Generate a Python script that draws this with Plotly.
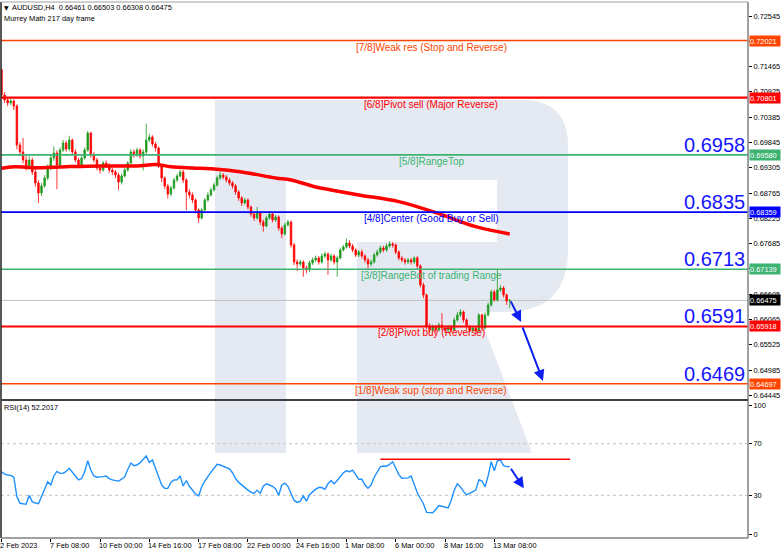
import plotly.graph_objects as go

# ---------------- DATA ----------------
first_open = 0.71400
closes = [0.70859, 0.70753, 0.70689, 0.70731, 0.70624, 0.69792, 0.69643, 0.69472, 0.69344, 0.69472,
          0.69216, 0.68981, 0.68768, 0.68917, 0.69088, 0.69301, 0.69515, 0.69621, 0.69365, 0.69685,
          0.69835, 0.69706, 0.69899, 0.69643, 0.69472, 0.69365, 0.69515, 0.69685, 0.70048, 0.69579,
          0.69472, 0.69301, 0.69258, 0.69408, 0.69365, 0.69258, 0.69216, 0.69151, 0.69002, 0.69130,
          0.69258, 0.69408, 0.69643, 0.69579, 0.69685, 0.69557, 0.69643, 0.69899, 0.69962, 0.69813,
          0.69728, 0.69344, 0.69088, 0.68917, 0.68746, 0.68874, 0.69045, 0.69130, 0.69216, 0.69045,
          0.68789, 0.68725, 0.68618, 0.68405, 0.68234, 0.68405, 0.68618, 0.68725, 0.68832, 0.68938,
          0.69088, 0.69151, 0.69109, 0.69045, 0.68981, 0.68917, 0.68789, 0.68661, 0.68554, 0.68618,
          0.68469, 0.68319, 0.68234, 0.68341, 0.68149, 0.68063, 0.68234, 0.68319, 0.68191, 0.68255,
          0.68020, 0.67892, 0.68084, 0.68149, 0.67658, 0.67295, 0.67252, 0.67295, 0.67167, 0.67124,
          0.67274, 0.67338, 0.67380, 0.67295, 0.67423, 0.67466, 0.67338, 0.67423, 0.67295, 0.67380,
          0.67551, 0.67615, 0.67700, 0.67636, 0.67551, 0.67444, 0.67508, 0.67423, 0.67338, 0.67252,
          0.67295, 0.67444, 0.67508, 0.67594, 0.67551, 0.67636, 0.67679, 0.67658, 0.67508, 0.67380,
          0.67338, 0.67295, 0.67338, 0.67295, 0.67380, 0.67210, 0.66804, 0.66591, 0.65929, 0.65844,
          0.65908, 0.65844, 0.65950, 0.65886, 0.65844, 0.65908, 0.65844, 0.66057, 0.66164, 0.66228,
          0.66057, 0.65908, 0.65844, 0.65886, 0.65822, 0.66164, 0.65886, 0.66164, 0.66377, 0.66655,
          0.66485, 0.66697, 0.66740, 0.66591, 0.66461, 0.66475]
highs = [0.71436, 0.70920, 0.70800, 0.70790, 0.70760, 0.70660, 0.69850, 0.69940, 0.69560, 0.69560,
         0.69520, 0.69280, 0.69040, 0.68980, 0.69150, 0.69380, 0.69600, 0.69760, 0.69680, 0.69740,
         0.69900, 0.69880, 0.69990, 0.69930, 0.69700, 0.69520, 0.69560, 0.69740, 0.70090, 0.70070,
         0.69640, 0.69520, 0.69360, 0.69450, 0.69460, 0.69400, 0.69300, 0.69260, 0.69200, 0.69180,
         0.69300, 0.69450, 0.69700, 0.69700, 0.69730, 0.69720, 0.69700, 0.70250, 0.70030, 0.70000,
         0.69860, 0.69760, 0.69380, 0.69120, 0.68960, 0.68920, 0.69090, 0.69180, 0.69260, 0.69260,
         0.69080, 0.68850, 0.68780, 0.68650, 0.68440, 0.68450, 0.68660, 0.68780, 0.68880, 0.68990,
         0.69140, 0.69220, 0.69190, 0.69150, 0.69090, 0.69020, 0.68960, 0.68830, 0.68700, 0.68660,
         0.68650, 0.68500, 0.68360, 0.68470, 0.68380, 0.68200, 0.68280, 0.68370, 0.68360, 0.68300,
         0.68290, 0.68060, 0.68130, 0.68200, 0.68180, 0.67700, 0.67350, 0.67340, 0.67330, 0.67220,
         0.67320, 0.67390, 0.67430, 0.67420, 0.67480, 0.67520, 0.67500, 0.67470, 0.67460, 0.67430,
         0.67600, 0.67660, 0.67800, 0.67760, 0.67680, 0.67590, 0.67550, 0.67560, 0.67460, 0.67380,
         0.67350, 0.67490, 0.67560, 0.67640, 0.67640, 0.67690, 0.67740, 0.67720, 0.67690, 0.67540,
         0.67420, 0.67380, 0.67380, 0.67380, 0.67420, 0.67420, 0.67240, 0.66850, 0.66620, 0.65990,
         0.65960, 0.65950, 0.66000, 0.66200, 0.65930, 0.65950, 0.65940, 0.66110, 0.66230, 0.66290,
         0.66260, 0.66090, 0.65950, 0.65930, 0.65920, 0.66210, 0.66200, 0.66220, 0.66430, 0.66700,
         0.66700, 0.67120, 0.66800, 0.66780, 0.66620, 0.66503]
lows = [0.70800, 0.70690, 0.70620, 0.70640, 0.70540, 0.69700, 0.69560, 0.69400, 0.69250, 0.69300,
        0.69150, 0.68900, 0.68550, 0.68700, 0.68880, 0.69040, 0.69250, 0.69450, 0.68850, 0.69320,
        0.69640, 0.69650, 0.69660, 0.69600, 0.69420, 0.69300, 0.69320, 0.69480, 0.69650, 0.69520,
        0.69420, 0.69250, 0.69180, 0.69220, 0.69300, 0.69200, 0.69150, 0.69080, 0.68830, 0.68950,
        0.69100, 0.69220, 0.69380, 0.69520, 0.69540, 0.69500, 0.69250, 0.69600, 0.69850, 0.69760,
        0.69650, 0.69300, 0.69000, 0.68850, 0.68650, 0.68700, 0.68840, 0.69000, 0.69100, 0.68980,
        0.68400, 0.68650, 0.68550, 0.68330, 0.68130, 0.68200, 0.68380, 0.68580, 0.68690, 0.68800,
        0.68900, 0.69050, 0.69060, 0.68990, 0.68930, 0.68860, 0.68730, 0.68600, 0.68490, 0.68520,
        0.68420, 0.68260, 0.68170, 0.68200, 0.68080, 0.67940, 0.68030, 0.68200, 0.68140, 0.68150,
        0.67960, 0.67800, 0.67860, 0.68050, 0.67600, 0.67230, 0.67100, 0.67200, 0.66980, 0.67050,
        0.67080, 0.67230, 0.67290, 0.67240, 0.67260, 0.67380, 0.67020, 0.67300, 0.67240, 0.66980,
        0.67350, 0.67520, 0.67580, 0.67590, 0.67500, 0.67400, 0.67400, 0.67370, 0.67280, 0.67130,
        0.67200, 0.67260, 0.67410, 0.67470, 0.67500, 0.67510, 0.67600, 0.67600, 0.67460, 0.67330,
        0.67290, 0.67240, 0.67250, 0.67240, 0.67250, 0.67150, 0.66750, 0.66520, 0.65860, 0.65780,
        0.65800, 0.65790, 0.65810, 0.65830, 0.65780, 0.65800, 0.65780, 0.65820, 0.66020, 0.66120,
        0.66000, 0.65850, 0.65790, 0.65800, 0.65760, 0.65800, 0.65820, 0.65860, 0.66130, 0.66340,
        0.66450, 0.66450, 0.66650, 0.66540, 0.66380, 0.66308]

rsi_vals = [48.3, 46.5, 45.7, 45.5, 44.0, 29.0, 23.8, 23.5, 23.0, 30.0,
            25.0, 24.0, 23.5, 29.0, 35.0, 40.5, 38.0, 45.0, 48.5, 47.0,
            47.0, 48.5, 50.9, 47.5, 45.0, 41.9, 43.0, 48.0, 56.8, 49.6,
            45.0, 44.0, 44.0, 44.5, 45.0, 43.0, 42.0, 41.5, 41.0, 42.5,
            44.4, 50.0, 55.0, 53.0, 53.5, 55.3, 58.0, 60.5, 55.5, 57.4,
            51.0, 44.0, 38.0, 35.4, 35.4, 40.0, 41.9, 42.0, 45.0, 37.2,
            41.5, 37.0, 33.5, 31.0, 29.5, 36.7, 41.0, 45.0, 48.0, 51.0,
            54.0, 53.5, 52.5, 52.0, 50.5, 47.5, 43.0, 40.0, 38.0, 35.5,
            34.0, 32.5, 31.5, 34.0, 31.5, 37.0, 39.0, 38.0, 37.0, 35.0,
            30.0, 38.0, 39.5, 37.0, 31.0, 26.0, 24.5, 25.5, 29.5, 25.5,
            30.5, 33.0, 34.8, 36.0, 36.0, 34.6, 39.0, 41.5, 39.0, 41.5,
            45.0, 47.5, 49.0, 48.3, 49.5, 46.0, 42.4, 42.4, 38.0, 35.5,
            38.0, 44.0, 48.5, 52.0, 52.7, 52.5, 54.0, 56.0, 51.0, 46.0,
            43.2, 43.2, 43.5, 45.0, 38.0, 32.0, 27.5, 23.5, 16.8, 16.5,
            16.5, 19.0, 22.0, 21.5, 20.8, 20.2, 26.0, 34.0, 39.0, 36.5,
            33.0, 30.3, 31.5, 32.8, 34.0, 42.0, 41.0, 36.5, 45.0, 56.0,
            49.0, 56.8, 57.4, 53.0, 52.2, 52.2017]

ma_idx = [0, 4, 10, 21, 32, 44, 50, 55, 62, 69, 78, 89, 94, 102, 107, 116, 129, 141, 154, 165]
ma_vals = [0.69295, 0.69329, 0.69308, 0.69329, 0.69344, 0.69344, 0.69376, 0.69329, 0.69301, 0.69280,
           0.69216, 0.69088, 0.69045, 0.68896, 0.68832, 0.68725, 0.68582, 0.68347, 0.68049, 0.67893]

level_names = ["[7/8]Weak res (Stop and Reverse)", "[6/8]Pivot sell (Major Reverse)", "[5/8]RangeTop",
               "[4/8]Center (Good Buy or Sell)", "[3/8]RangeBot of trading Range",
               "[2/8]Pivot buy (Reverse)", "[1/8]Weak sup (stop and Reverse)"]
level_prices = [0.72021, 0.70801, 0.69580, 0.68359, 0.67139, 0.65918, 0.64697]
level_colors = ["#FF4500", "#FF0000", "#3CB371", "#0000FF", "#3CB371", "#FF0000", "#FF4500"]
level_widths = [1.5, 2.2, 1.6, 1.6, 1.6, 2.2, 1.6]

big_labels = ["0.6958", "0.6835", "0.6713", "0.6591", "0.6469"]
big_prices = [0.69580, 0.68359, 0.67139, 0.65918, 0.64697]

current_price = 0.66475

price_ticks = [0.72545, 0.72005, 0.71465, 0.70925, 0.70385, 0.69845, 0.69305, 0.68765,
               0.68225, 0.67685, 0.67145, 0.66605, 0.66065, 0.65525, 0.64985, 0.64445]
price_tick_text = ["0.72545", "", "0.71465", "0.70925", "0.70385", "0.69845", "0.69305", "0.68765",
                   "0.68225", "0.67685", "", "0.66605", "0.66065", "0.65525", "0.64985", "0.64445"]
rsi_ticks = [0, 30, 70, 100]
rsi_levels = [30, 70]

date_idx = [0, 16, 32, 48, 64, 80, 96, 112, 128, 144, 160]
date_labels = ["2 Feb 2023", "7 Feb 08:00", "10 Feb 00:00", "14 Feb 16:00", "17 Feb 08:00",
               "22 Feb 00:00", "24 Feb 16:00", "1 Mar 08:00", "6 Mar 00:00", "8 Mar 16:00",
               "13 Mar 08:00"]

rsi_res_idx = [123, 184.6]
rsi_res_level = 57.9

price_arrows = [((165.1, 0.66485), (168.7, 0.66016)), ((169.0, 0.65930), (175.8, 0.64756))]
rsi_arrows = [((165.1, 51.7), (169.6, 35.4))]

header_text = "AUDUSD,H4  0.66461 0.66503 0.66308 0.66475"
subtitle_text = "Murrey Math 217 day frame"
rsi_title = "RSI(14) 52.2017"

# ---------------- FIGURE ----------------
FONT = "Liberation Sans, Arial, sans-serif"
W, H = 782, 554
ML, MR, MT, MB = 1, 34, 2, 16
PW, PH = W - ML - MR, H - MT - MB


def pxx(x):
    return (x - ML) / PW


def pxy(y):
    return (H - MB - y) / PH


bar_idx = list(range(len(closes)))
opens = [first_open] + closes[:-1]
x_range = [-0.16, 242.37]

fig = go.Figure()
fig.add_trace(go.Candlestick(
    x=bar_idx, open=opens, high=highs, low=lows, close=closes,
    increasing=dict(line=dict(color="#1E9A1E", width=0.8), fillcolor="#1E9A1E"),
    decreasing=dict(line=dict(color="#FF0000", width=0.8), fillcolor="#FF0000"),
    whiskerwidth=0, xaxis="x", yaxis="y", showlegend=False, hoverinfo="skip"))
fig.add_trace(go.Scatter(x=ma_idx, y=ma_vals, mode="lines",
                         line=dict(color="#FF0000", width=3.5, shape="spline"),
                         xaxis="x", yaxis="y", showlegend=False, hoverinfo="skip"))
fig.add_trace(go.Scatter(x=bar_idx, y=rsi_vals, mode="lines",
                         line=dict(color="#1E90FF", width=1.4),
                         xaxis="x2", yaxis="y2", showlegend=False, hoverinfo="skip"))
fig.add_trace(go.Scatter(x=rsi_res_idx, y=[rsi_res_level, rsi_res_level], mode="lines",
                         line=dict(color="#FF0000", width=1.5),
                         xaxis="x2", yaxis="y2", showlegend=False, hoverinfo="skip"))

shapes = []
wm = "#E4E9F2"
# watermark "R"
shapes.append(dict(type="rect", xref="paper", yref="paper", x0=pxx(215), x1=pxx(286),
                   y0=pxy(453), y1=pxy(100), fillcolor=wm, line=dict(width=0), layer="below"))
pts = ("M {a},{b} L {c},{b} Q {d},{b} {d},{e} L {d},{f} Q {d},{g} {h},{g} L {i},{g} "
       "L {j},{k} L {l},{k} L {l},{m} L {n},{m} L {n},{o} L {a},{o} Z").format(
    a=pxx(286), b=pxy(100), c=pxx(522), d=pxx(568), e=pxy(146), f=pxy(250), g=pxy(312),
    h=pxx(505), i=pxx(478), j=pxx(532), k=pxy(453), l=pxx(357), m=pxy(242), n=pxx(497), o=pxy(180))
shapes.append(dict(type="path", xref="paper", yref="paper", path=pts, fillcolor=wm,
                   line=dict(width=0), layer="below"))

# RSI dotted levels
for lv in rsi_levels:
    shapes.append(dict(type="line", xref="paper", yref="y2", x0=0, x1=1, y0=lv, y1=lv,
                       line=dict(color="#C4C4C4", width=1, dash="3px,3px"), layer="below"))

# current price line
shapes.append(dict(type="line", xref="paper", yref="y", x0=0, x1=1, y0=current_price, y1=current_price,
                   line=dict(color="#C0C0C0", width=1), layer="below"))

# Murrey levels
for p, c, w in zip(level_prices, level_colors, level_widths):
    shapes.append(dict(type="line", xref="paper", yref="y", x0=0, x1=1, y0=p, y1=p,
                       line=dict(color=c, width=w), layer="above"))

# frame
shapes += [
    dict(type="line", xref="paper", yref="paper", x0=0, x1=0, y0=0, y1=1,
         line=dict(color="#202020", width=1.5), layer="above"),
    dict(type="line", xref="paper", yref="paper", x0=1, x1=1, y0=0, y1=1,
         line=dict(color="#808080", width=1.5), layer="above"),
    dict(type="line", xref="paper", yref="paper", x0=0, x1=1, y0=1, y1=1,
         line=dict(color="#A0A0A0", width=1), layer="above"),
    dict(type="line", xref="paper", yref="paper", x0=0, x1=1, y0=0, y1=0,
         line=dict(color="#808080", width=1.5), layer="above"),
    dict(type="line", xref="paper", yref="paper", x0=0, x1=1.0, y0=pxy(400), y1=pxy(400),
         line=dict(color="#404040", width=2), layer="above"),
]

ann = []
# level texts
for name, p, c in zip(level_names, level_prices, level_colors):
    ann.append(dict(text=name, xref="paper", yref="y", x=pxx(431), y=p, xanchor="center",
                    yanchor="top", yshift=1, showarrow=False, font=dict(family=FONT, size=10, color=c)))
# big blue numbers
for t, p in zip(big_labels, big_prices):
    ann.append(dict(text=t, xref="paper", yref="y", x=1, y=p, xanchor="right", yanchor="bottom",
                    xshift=-1, yshift=-3, showarrow=False, font=dict(family=FONT, size=20, color="#1414FF")))
# right axis colored price boxes
for p, c in zip(level_prices, level_colors):
    ann.append(dict(text="%.5f" % p, xref="paper", yref="y", x=1, y=p, xanchor="left", yanchor="middle",
                    xshift=1, showarrow=False, bgcolor=c, width=30, height=10, borderpad=0, align="left",
                    font=dict(family=FONT, size=7.4, color="#FFFFFF")))
ann.append(dict(text="%.5f" % current_price, xref="paper", yref="y", x=1, y=current_price, xanchor="left",
                yanchor="middle", xshift=1, showarrow=False, bgcolor="#000000", width=30, height=10,
                borderpad=0, align="left", font=dict(family=FONT, size=7.4, color="#FFFFFF")))
# date labels
for i, t in zip(date_idx, date_labels):
    ann.append(dict(text=t, xref="x2", yref="paper", x=i, y=pxy(545), xanchor="left", yanchor="middle",
                    xshift=-3, showarrow=False, font=dict(family=FONT, size=7.4, color="#000000")))
# header
ann.append(dict(text="▼", xref="paper", yref="paper", x=pxx(2), y=pxy(7), xanchor="left", yanchor="middle",
                showarrow=False, font=dict(family="DejaVu Sans", size=6, color="#000000")))
ann.append(dict(text=header_text, xref="paper", yref="paper", x=pxx(10), y=pxy(7), xanchor="left",
                yanchor="middle", showarrow=False, font=dict(family=FONT, size=7.4, color="#000000")))
ann.append(dict(text=subtitle_text, xref="paper", yref="paper", x=pxx(2), y=pxy(18.5), xanchor="left",
                yanchor="middle", showarrow=False, font=dict(family=FONT, size=7.4, color="#000000")))
ann.append(dict(text=rsi_title, xref="paper", yref="paper", x=pxx(2), y=pxy(407), xanchor="left",
                yanchor="middle", showarrow=False, font=dict(family=FONT, size=7.4, color="#000000")))
# arrows
for (t0, t1) in price_arrows:
    ann.append(dict(text="", xref="x", yref="y", axref="x", ayref="y", x=t1[0], y=t1[1], ax=t0[0], ay=t0[1],
                    showarrow=True, arrowhead=2, arrowsize=1.1, arrowwidth=2, arrowcolor="#0A1EF0",
                    standoff=0, startstandoff=0))
for (t0, t1) in rsi_arrows:
    ann.append(dict(text="", xref="x2", yref="y2", axref="x2", ayref="y2", x=t1[0], y=t1[1], ax=t0[0], ay=t0[1],
                    showarrow=True, arrowhead=2, arrowsize=1.1, arrowwidth=2, arrowcolor="#0A1EF0",
                    standoff=0, startstandoff=0))

tickfont = dict(family=FONT, size=7.4, color="#000000")
fig.update_layout(
    width=W, height=H, margin=dict(l=ML, r=MR, t=MT, b=MB),
    paper_bgcolor="#FFFFFF", plot_bgcolor="#FFFFFF", showlegend=False,
    xaxis=dict(domain=[0, 1], range=x_range, anchor="y", showticklabels=False, showgrid=False,
               zeroline=False, showline=False, rangeslider=dict(visible=False), fixedrange=True),
    xaxis2=dict(domain=[0, 1], range=x_range, anchor="y2", tickvals=date_idx, ticks="outside", ticklen=3,
                tickcolor="#000000", showticklabels=False, showgrid=False, zeroline=False, showline=False),
    yaxis=dict(domain=[pxy(399), 1], range=[0.64370, 0.72844], anchor="x", side="right",
               tickvals=price_ticks, ticktext=price_tick_text, ticks="outside", ticklen=3,
               tickcolor="#000000", tickfont=tickfont, showgrid=False, zeroline=False, showline=False),
    yaxis2=dict(domain=[0, pxy(401)], range=[-3.1, 103.1], anchor="x2", side="right",
                tickvals=rsi_ticks, ticktext=[str(v) for v in rsi_ticks], ticks="outside", ticklen=3,
                tickcolor="#000000", tickfont=tickfont, showgrid=False, zeroline=False, showline=False),
    shapes=shapes, annotations=ann,
)

fig.write_html("out.html", config={"displayModeBar": False},
               post_script="document.body.style.margin='0';document.body.style.padding='0';"
                           "document.documentElement.style.margin='0';")
